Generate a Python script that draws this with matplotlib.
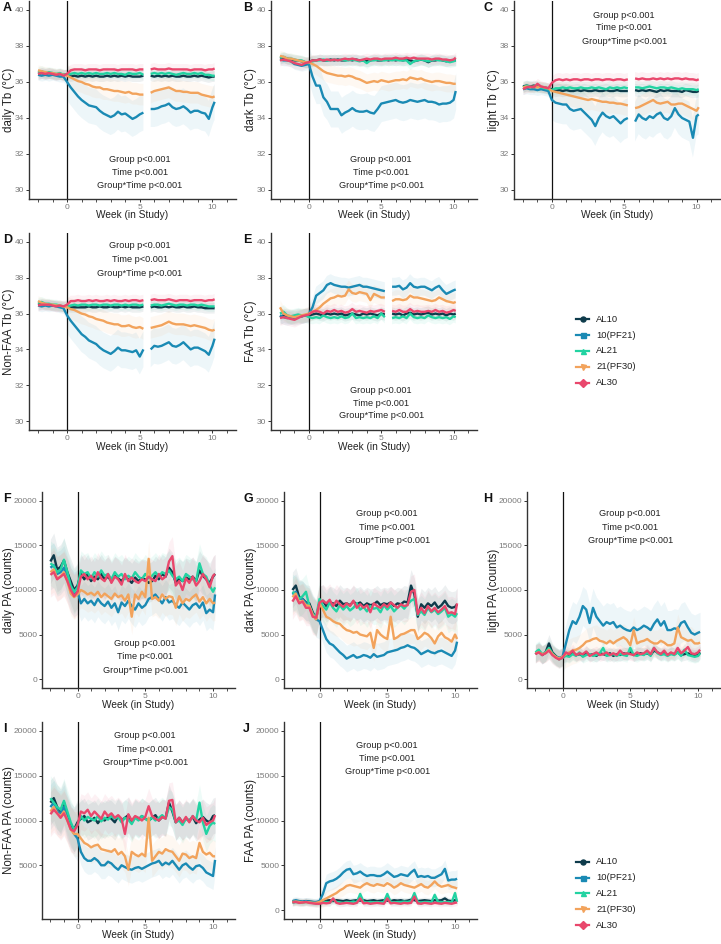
import numpy as np
import matplotlib
matplotlib.use("Agg")
import matplotlib.pyplot as plt
from matplotlib.lines import Line2D

plt.rcParams['font.family'] = ['Liberation Sans', 'DejaVu Sans']
nan = np.nan

# ---------------- data ----------------
WEEKS = [-2.0, -1.75, -1.5, -1.25, -1.0, -0.75, -0.5, -0.25,
         0.0, 0.25, 0.5, 0.75, 1.0, 1.25, 1.5, 1.75, 2.0, 2.25, 2.5, 2.75,
         3.0, 3.25, 3.5, 3.75, 4.0, 4.25, 4.5, 4.75, 5.0, 5.25, 5.5, 5.75,
         6.0, 6.25, 6.5, 6.75, 7.0, 7.25, 7.5, 7.75, 8.0, 8.25, 8.5, 8.75,
         9.0, 9.25, 9.5, 9.75, 10.0, 10.15]

GROUPS = ['AL10', '10(PF21)', 'AL21', '21(PF30)', 'AL30']
COLORS = ['#0E3B4B', '#1A8AB4', '#22D3A2', '#F2A35C', '#E9476C']
MARKERS = ['o', 's', '^', 'v', 'D']

# A  daily Tb
A_AL10 = [36.45,36.5,36.45,36.5,36.45,36.4,36.45,36.4,
          36.4,36.3,36.35,36.3, 36.35,36.3,36.35,36.3, 36.35,36.3,36.3,36.35, 36.3,36.35,36.3,36.35,
          36.3,36.35,36.3,36.3, 36.3,36.35,nan,36.35, 36.3,36.35,36.3,36.35, 36.3,36.35,36.3,36.3,
          36.35,36.3,36.3,36.35, 36.3,36.35,36.3,36.25, 36.3,36.3]
A_PF21 = [36.4,36.35,36.4,36.35,36.4,36.35,36.3,36.3,
          36.0,35.7,35.45,35.2, 35.0,34.85,34.7,34.65, 34.6,34.4,34.25,34.15, 34.05,34.15,34.35,34.2,
          34.25,34.1,33.95,34.05, 34.2,34.3,nan,34.5, 34.5,34.55,34.65,34.7, 34.8,34.6,34.5,34.55,
          34.65,34.5,34.3,34.4, 34.4,34.3,34.25,33.95, 34.6,34.9]
A_AL21 = [36.55,36.6,36.5,36.55,36.5,36.45,36.5,36.4,
          36.4,36.45,36.5,36.45, 36.5,36.45,36.5,36.45, 36.5,36.45,36.45,36.5, 36.45,36.5,36.45,36.45,
          36.4,36.5,36.45,36.45, 36.5,36.4,nan,36.45, 36.5,36.45,36.5,36.45, 36.5,36.45,36.4,36.45,
          36.5,36.45,36.45,36.5, 36.45,36.5,36.4,36.4, 36.35,36.35]
A_PF30 = [36.65,36.6,36.55,36.5,36.5,36.45,36.45,36.4,
          36.35,36.25,36.15,36.05, 36.0,35.9,35.85,35.75, 35.7,35.7,35.6,35.6, 35.55,35.5,35.5,35.45,
          35.4,35.45,35.35,35.35, 35.3,35.3,nan,35.4, 35.5,35.55,35.6,35.65, 35.7,35.6,35.5,35.5,
          35.45,35.45,35.4,35.4, 35.4,35.3,35.25,35.2, 35.15,35.2]
A_AL30 = [36.45,36.5,36.45,36.5,36.45,36.4,36.45,36.35,
          36.45,36.65,36.7,36.7, 36.7,36.65,36.7,36.7, 36.7,36.65,36.7,36.7, 36.7,36.7,36.65,36.7,
          36.7,36.7,36.7,36.65, 36.7,36.7,nan,36.7, 36.75,36.7,36.7,36.7, 36.75,36.7,36.7,36.7,
          36.7,36.7,36.65,36.7, 36.7,36.7,36.65,36.7, 36.7,36.75]

# B  dark Tb
B_AL10 = [37.3,37.35,37.3,37.25,37.2,37.2,37.15,37.1,
          37.1,37.2,37.2,37.25, 37.2,37.2,37.25,37.2, 37.25,37.2,37.2,37.25, 37.2,37.25,37.2,37.2,
          37.15,37.2,37.25,37.2, 37.2,37.25,37.2,37.25, 37.2,37.25,37.2,37.25, 37.2,37.15,37.2,37.25,
          37.2,37.1,37.2,37.2, 37.25,37.2,37.15,37.2, 37.2,37.2]
B_PF21 = [37.25,37.2,37.2,37.15,37.0,36.95,36.9,36.95,
          37.0,36.3,35.8,35.8, 35.15,34.9,34.5,34.5, 34.5,34.15,34.3,34.4, 34.55,34.4,34.35,34.35,
          34.4,34.3,34.25,34.5, 34.8,34.85,34.9,34.95, 35.0,34.9,34.85,34.9, 35.0,34.95,34.9,34.95,
          35.0,34.9,34.9,34.85, 34.75,34.8,34.8,34.85, 35.0,35.5]
B_AL21 = [37.35,37.4,37.3,37.3,37.25,37.2,37.2,37.1,
          37.05,37.15,37.2,37.2, 37.25,37.2,37.2,37.25, 37.2,37.25,37.2,37.2, 37.25,37.2,37.15,37.2,
          37.05,37.2,37.2,37.25, 37.2,37.2,37.25,37.2, 37.25,37.2,37.2,37.2, 37.0,37.15,37.2,37.25,
          37.2,37.15,37.2,37.25, 37.2,37.2,37.15,37.1, 37.15,37.2]
B_PF30 = [37.45,37.4,37.3,37.3,37.25,37.2,37.15,37.1,
          37.1,37.0,36.9,36.75, 36.6,36.5,36.45,36.4, 36.35,36.35,36.3,36.35, 36.3,36.2,36.15,36.05,
          35.95,36.0,36.05,36.0, 36.1,36.05,36.0,36.05, 36.1,36.1,36.15,36.1, 36.25,36.2,36.15,36.2,
          36.1,36.05,36.0,36.05, 36.05,36.0,35.95,35.95, 35.9,35.9]
B_AL30 = [37.2,37.25,37.2,37.15,37.05,37.0,36.95,37.05,
          37.1,37.2,37.2,37.25, 37.2,37.25,37.2,37.25, 37.2,37.25,37.3,37.25, 37.3,37.25,37.2,37.25,
          37.3,37.25,37.3,37.3, 37.25,37.3,37.3,37.3, 37.35,37.3,37.3,37.35, 37.3,37.35,37.3,37.3,
          37.3,37.3,37.25,37.3, 37.3,37.25,37.25,37.2, 37.25,37.35]

# C  light Tb
C_AL10 = [35.75,35.8,35.75,35.8,35.75,35.7,35.7,35.65,
          35.6,35.5,35.55,35.5, 35.55,35.5,35.5,35.55, 35.5,35.55,35.5,35.5, 35.55,35.5,35.5,35.55,
          35.5,35.5,35.55,35.5, 35.5,35.5,nan,35.55, 35.5,35.55,35.5,35.55, 35.5,35.45,35.55,35.5,
          35.55,35.5,35.5,35.5, 35.45,35.55,35.5,35.45, 35.45,35.5]
C_PF21 = [35.6,35.65,35.6,35.6,35.55,35.6,35.55,35.5,
          35.0,34.85,34.8,34.75, 34.75,34.5,34.4,34.45, 34.5,34.3,34.1,33.9, 33.55,34.0,34.3,34.1,
          34.0,34.1,33.9,33.7, 33.9,34.0,nan,33.8, 34.2,34.0,33.9,34.1, 34.0,34.2,34.3,34.0,
          33.9,34.1,34.55,34.2, 34.0,33.9,33.8,32.9, 34.1,34.2]
C_AL21 = [35.7,35.8,35.75,35.7,35.75,35.7,35.65,35.6,
          35.55,35.65,35.65,35.7, 35.65,35.7,35.65,35.65, 35.7,35.65,35.65,35.7, 35.65,35.7,35.65,35.6,
          35.7,35.65,35.7,35.65, 35.7,35.65,nan,35.7, 35.7,35.65,35.7,35.75, 35.7,35.65,35.7,35.7,
          35.65,35.7,35.65,35.6, 35.65,35.6,35.6,35.6, 35.55,35.6]
C_PF30 = [35.7,35.75,35.7,35.75,35.7,35.75,35.7,35.65,
          35.5,35.45,35.4,35.35, 35.3,35.25,35.2,35.15, 35.1,35.05,35.0,35.05, 35.0,34.95,34.9,34.9,
          34.85,34.85,34.8,34.8, 34.75,34.7,nan,34.55, 34.6,34.7,34.8,34.9, 35.0,34.85,34.8,34.85,
          34.9,34.75,34.75,34.8, 34.8,34.7,34.6,34.5, 34.4,34.6]
C_AL30 = [35.6,35.7,35.75,35.7,35.9,35.75,35.7,35.65,
          35.95,36.1,36.15,36.1, 36.15,36.1,36.15,36.15, 36.1,36.15,36.15,36.1, 36.15,36.15,36.1,36.15,
          36.15,36.1,36.15,36.15, 36.1,36.15,nan,36.2, 36.15,36.2,36.15,36.15, 36.2,36.15,36.2,36.15,
          36.2,36.15,36.2,36.2, 36.15,36.2,36.15,36.15, 36.1,36.15]

# D  Non-FAA Tb
D_AL10 = [36.5,36.55,36.5,36.5,36.45,36.45,36.4,36.4,
          36.4,36.35,36.35,36.35, 36.35,36.35,36.4,36.35, 36.35,36.4,36.35,36.35, 36.4,36.35,36.35,36.4,
          36.35,36.4,36.35,36.35, 36.35,36.4,nan,36.35, 36.4,36.35,36.35,36.4, 36.35,36.4,36.35,36.35,
          36.4,36.35,36.35,36.4, 36.35,36.35,36.3,36.3, 36.3,36.3]
D_PF21 = [36.45,36.4,36.45,36.4,36.45,36.4,36.35,36.3,
          35.9,35.6,35.35,35.1, 34.85,34.7,34.5,34.4, 34.3,34.1,33.95,33.85, 33.75,33.9,34.1,33.95,
          33.95,33.9,33.85,33.95, 33.6,34.0,nan,34.0, 34.2,34.15,34.2,34.3, 34.4,34.2,34.15,34.25,
          34.4,34.2,34.0,34.1, 34.1,34.0,33.9,33.7, 34.2,34.6]
D_AL21 = [36.6,36.65,36.55,36.55,36.5,36.5,36.45,36.4,
          36.4,36.45,36.5,36.45, 36.5,36.5,36.45,36.5, 36.5,36.45,36.5,36.5, 36.45,36.5,36.5,36.45,
          36.5,36.45,36.5,36.5, 36.45,36.5,nan,36.45, 36.5,36.5,36.45,36.5, 36.55,36.5,36.45,36.5,
          36.5,36.45,36.5,36.5, 36.45,36.5,36.45,36.4, 36.4,36.4]
D_PF30 = [36.7,36.6,36.55,36.5,36.5,36.45,36.45,36.4,
          36.35,36.25,36.2,36.1, 36.0,35.95,35.85,35.8, 35.7,35.65,35.6,35.5, 35.45,35.4,35.4,35.3,
          35.3,35.35,35.25,35.2, 35.25,35.15,nan,35.2, 35.25,35.3,35.35,35.45, 35.55,35.45,35.4,35.4,
          35.4,35.35,35.3,35.35, 35.3,35.25,35.2,35.1, 35.05,35.1]
D_AL30 = [36.45,36.5,36.5,36.5,36.45,36.4,36.45,36.4,
          36.5,36.7,36.7,36.75, 36.7,36.7,36.75,36.7, 36.75,36.7,36.7,36.75, 36.7,36.75,36.7,36.7,
          36.75,36.7,36.75,36.75, 36.7,36.75,nan,36.75, 36.8,36.75,36.75,36.75, 36.8,36.75,36.7,36.75,
          36.75,36.75,36.7,36.75, 36.75,36.75,36.7,36.75, 36.75,36.8]

# E  FAA Tb
E_AL10 = [35.8,35.9,35.85,35.8,35.85,35.9,35.85,35.9,
          35.9,35.95,36.0,35.95, 35.9,36.0,35.95,36.0, 35.95,36.0,35.9,35.95, 36.0,35.95,35.9,36.0,
          35.95,36.0,35.95,35.9, 36.0,35.95,nan,36.0, 35.95,36.0,35.9,36.0, 36.05,35.95,36.0,35.95,
          36.0,36.05,35.95,36.0, 35.95,36.0,35.9,36.0, 35.95,36.0]
E_PF21 = [35.9,35.8,35.75,35.8,35.75,35.8,35.85,35.9,
          36.0,36.35,37.0,37.15, 37.3,37.6,37.7,37.6, 37.55,37.5,37.5,37.45, 37.5,37.55,37.6,37.5,
          37.5,37.45,37.4,37.35, 37.3,37.25,nan,37.5, 37.5,37.55,37.35,37.45, 37.7,37.5,37.45,37.5,
          37.5,37.4,37.3,37.45, 37.55,37.3,37.1,37.2, 37.3,37.35]
E_AL21 = [36.0,36.1,35.9,35.85,35.9,35.95,35.9,35.9,
          35.8,35.75,35.8,35.75, 35.9,35.8,35.75,35.8, 35.75,35.85,35.75,35.8, 36.0,35.75,35.8,35.75,
          35.8,35.75,35.85,35.75, 36.0,35.8,nan,35.75, 35.8,35.75,35.85,35.75, 36.0,35.8,35.75,35.8,
          35.75,35.9,35.8,35.75, 35.8,35.75,35.8,35.7, 35.85,35.8]
E_PF30 = [36.35,36.0,35.9,35.85,35.8,35.85,35.9,35.95,
          36.0,36.1,36.2,36.35, 36.55,36.7,36.85,36.9, 37.0,36.95,37.0,37.35, 37.15,37.1,37.2,37.15,
          37.1,36.75,37.1,37.0, 36.9,36.9,nan,36.7, 36.8,36.8,36.75,36.8, 37.0,36.9,36.9,36.85,
          36.8,36.75,36.7,36.75, 36.9,36.8,36.7,36.65, 36.6,36.65]
E_AL30 = [35.75,35.8,35.75,35.7,35.65,35.75,35.85,35.9,
          35.95,36.1,36.15,36.1, 36.0,36.15,36.1,36.2, 36.1,36.15,36.05,36.1, 36.25,36.1,36.15,36.1,
          36.05,36.15,36.1,36.15, 36.2,36.1,nan,36.15, 36.1,36.2,36.1,36.1, 36.25,36.1,36.15,36.1,
          36.1,36.15,36.1,36.2, 36.1,36.15,36.05,36.1, 36.2,36.15]

# F  daily PA
F_AL10 = [13200,13900,12300,12600,13300,12000,11000,10000,
          10500,11800,11200,11800, 11000,11500,11200,11800, 11200,11500,11000,11600, 11300,11000,11500,11200,
          10800,11400,11000,11300, 11200,10800,11000,11600, 11200,11800,11500,12500, 12000,10800,11300,11000,
          11400,11200,11500,11000, 12200,11600,11200,10800, 11500,11800]
F_PF21 = [12500,12800,11800,12000,12500,11300,10000,9500,
          9800,8500,9000,8500, 8800,8300,9000,8500, 8200,8700,8000,8500, 7500,8600,8200,8800,
          8200,7800,8500,8000, 8300,9000,9200,9500, 9000,8500,9200,8600, 8800,8300,8000,8600,
          8200,7800,8300,8500, 8000,8600,7400,7800, 7500,9500]
F_AL21 = [13000,12700,12000,12300,13400,12000,10500,9800,
          10300,12200,11800,12000, 11300,12000,11500,12200, 11600,11800,11200,12000, 11500,11800,11200,11600,
          11300,12000,11500,11200, 11800,11300,11600,12000, 11500,12000,11800,12200, 11600,11200,11500,11000,
          11800,11500,11200,11000, 13000,11800,11500,10500, 9800,10300]
F_PF30 = [12000,12300,11300,11500,12000,11000,9600,9200,
          9500,10000,9800,9500, 9700,9400,9800,9200, 9600,9300,9000,9600, 9200,9400,8800,9500,
          7000,9500,9000,9800, 9200,13500,9000,9200, 8800,9500,9000,9300, 9200,8000,9300,8500,
          9000,8800,9200,9500, 8700,9200,8500,9000, 8500,8600]
F_AL30 = [11700,12000,11200,11500,11800,11000,10000,9300,
          9800,11500,11800,11200, 11600,11000,12000,11300, 11000,11800,10800,11500, 11200,10600,11800,11000,
          11400,11000,10800,11200, 11000,11500,11200,11000, 11800,11200,11500,13200, 13800,10500,11000,10000,
          11300,10800,11500,10500, 11000,11800,11200,10300, 11600,11800]

# G  dark PA
G_AL10 = [10000,10500,9200,9000,8600,8500,7500,6800,
          8600,8800,8200,8600, 8500,8200,8800,8400, 8500,8300,8700,8400, 8600,8200,8500,8300,
          8400,8700,8300,8500, 8400,8600,8200,8500, 8400,8700,8600,10500, 9500,7000,8400,8000,
          8500,8200,8600,8000, 8300,8800,8200,8000, 8100,8400]
G_PF21 = [9500,9800,9000,9000,8500,8200,7300,6700,
          6500,5500,4500,4000, 3800,3400,3000,2700, 2300,2500,2700,2400, 2500,2700,2600,2400,
          2800,2500,2600,2700, 3000,3100,3200,3300, 3500,3600,3800,3600, 3500,3200,2800,3000,
          3200,3000,2900,3100, 3200,3000,2800,2600, 3200,4200]
G_AL21 = [9800,9500,9000,9300,9800,8200,7300,7000,
          9000,8200,7800,8600, 8000,7600,8300,7800, 8200,7700,8000,8500, 7800,8100,7600,8200,
          7900,8000,7500,8300, 7800,8200,7600,8000, 8300,7900,8400,8800, 9000,7200,7600,7200,
          8000,7500,7800,7300, 7600,8000,7000,7300, 7000,7400]
G_PF30 = [9200,9600,8600,8800,8300,8200,7200,6700,
          8500,7800,7000,6800, 6500,6300,6200,5800, 5500,5400,5200,5300, 5000,4900,4800,5200,
          3500,5500,5000,4700, 4500,7000,4500,4700, 5000,5100,5300,5500, 5500,4500,4800,5200,
          5000,4600,4000,4800, 5200,4700,4500,4200, 5000,4500]
G_AL30 = [8700,9300,8500,8700,8000,8000,7000,6900,
          8600,8800,8500,8900, 8200,8800,8400,8100, 8500,8200,8800,8000, 8400,8000,8300,7500,
          8500,8200,8000,8400, 8100,8600,8300,8000, 8400,8200,8300,9800, 10000,7300,8000,7400,
          8200,7600,8000,7500, 7800,8200,7400,7500, 7300,8500]

# H  light PA
H_AL10 = [2800,3200,2700,3000,4000,3000,2600,2300,
          2500,2700,2600,2900, 2700,2800,2600,3000, 2700,2800,2600,2900, 2800,2700,2900,2600,
          2800,2700,2900,2800, 3000,2700,2800,2900, 2800,2900,2700,3200, 3000,2800,2900,2700,
          2900,2800,3000,2700, 2800,2900,2700,2600, 2700,3000]
H_PF21 = [2900,3100,2700,3000,3300,2800,2500,2400,
          2500,4000,5500,6500, 6200,7000,8200,7800, 6300,8000,7000,6500, 6000,6400,6200,6400,
          5800,6000,5700,5500, 5400,5800,5500,5700, 6000,5800,5500,6200, 6700,6000,6500,5500,
          5500,5700,5600,6300, 6500,5800,5200,5000, 5200,5300]
H_AL21 = [3000,3300,2800,3000,3500,2900,2500,2200,
          2400,2600,2500,2800, 2600,3000,2500,2700, 2800,2600,2700,2900, 3500,2600,2700,2800,
          2600,2800,2700,2600, 3500,2700,2600,2800, 2700,3000,2600,3500, 2900,2700,2800,2600,
          2800,2700,3000,2600, 3300,2700,2600,2500, 2600,2900]
H_PF30 = [2900,3000,2800,2900,3300,2800,2500,2300,
          2500,2800,3000,3200, 3300,3500,3800,4200, 4300,4500,4600,4300, 4200,4000,4300,4000,
          4300,4500,4700,4400, 3800,5500,4000,4200, 4300,4500,4200,4000, 4000,4300,4100,3800,
          3800,4000,5800,4700, 4500,4300,4400,4000, 4000,4100]
H_AL30 = [2800,3000,2700,2900,3200,2700,2400,2200,
          2400,3000,2800,3200, 2700,2900,2800,3100, 2600,2800,3000,2700, 2800,3000,2700,2900,
          2700,3200,2800,2900, 2800,2700,3000,2800, 2900,3200,2800,3500, 3000,2800,3200,2700,
          3000,2800,3500,2900, 3200,3600,2900,2800, 3000,3300]

# I  Non-FAA PA
I_AL10 = [12000,12500,11500,11000,12000,10500,9500,9000,
          9800,10200,10500,9800, 10000,10300,9700,10200, 10000,10400,10200,9800, 10500,10000,10300,10600,
          9800,10400,10100,10500, 10200,10000,10300,10600, 10000,10400,10300,12000, 11000,9800,10300,9800,
          10200,10000,10400,9700, 10100,10400,10000,9800, 10500,10600]
I_PF21 = [11500,12000,11000,10800,11500,10200,9200,8500,
          8000,6500,5800,5500, 5500,5800,5500,5000, 5000,5400,5200,4800, 4500,5000,4800,4600,
          4500,4700,4800,4600, 4800,5000,5200,5300, 5500,5000,5300,5100, 5500,5000,4500,5000,
          5200,4800,4500,4900, 5000,4700,4200,4000, 3800,5600]
I_AL21 = [12500,12000,11500,11200,12200,11000,9800,9000,
          9500,10500,10000,10400, 10200,10000,10500,9900, 10300,10100,10500,10200, 10400,9800,10300,10100,
          9600,10300,10000,10500, 10200,9900,10400,10000, 10300,10600,10200,11500, 11200,9800,10000,9500,
          10200,9900,10500,10000, 12000,9800,8500,9400, 9800,9600]
I_PF30 = [11000,11500,10800,10500,11000,10000,9000,8500,
          8500,8000,7500,7300, 7000,7200,7300,6800, 6700,6600,6500,6800, 6200,6500,6000,4500,
          6500,6200,6000,6300, 6000,10300,5500,6000, 6500,6300,6800,6600, 6500,6000,5500,6300,
          6200,5800,6000,5800, 7500,6500,6200,6400, 6000,6000]
I_AL30 = [10700,11200,10800,10300,10800,10000,9000,8800,
          9500,11000,10800,11200, 10500,11000,10600,10200, 11000,10500,10800,10300, 10600,10200,8500,10700,
          10000,10500,10300,10000, 10400,11600,10500,10200, 10000,10400,10200,12200, 12300,9800,10300,9800,
          10400,9800,10500,10000, 9800,10300,9500,9800, 10000,10600]

# J  FAA PA
J_AL10 = [900,1000,950,900,1000,950,900,850,
          900,1000,1050,1100, 1000,1100,1050,1000, 1100,1000,1050,1100, 1050,1100,1000,1050,
          1100,1000,1050,1100, 1050,1000,1100,1050, 1100,1000,1050,1150, 1100,1000,1050,1100,
          1050,1000,1100,1050, 1100,1300,1050,1000, 1100,1050]
J_PF21 = [1000,1100,1000,950,1000,950,900,900,
          1000,1800,3000,3200, 3300,3500,3800,4200, 4500,4600,4000,4100, 4300,4000,3800,3900,
          3900,3800,3800,4000, 4300,4000,3700,3800, 4000,3900,3800,4200, 4500,3700,3800,3700,
          3800,3600,3600,3800, 4000,4600,3300,3400, 3400,3500]
J_AL21 = [800,900,850,800,900,850,800,750,
          800,850,900,800, 1200,900,850,800, 900,850,950,850, 1800,900,850,900,
          850,900,850,900, 1800,900,850,900, 900,950,900,1000, 1900,900,850,900,
          900,850,1700,900, 900,850,900,850, 1900,900]
J_PF30 = [900,950,900,850,900,850,800,800,
          900,1100,1300,1500, 1700,1900,2200,2400, 2700,2800,2700,2600, 2500,2800,3000,2800,
          2700,2900,2800,2700, 3000,2800,2500,2700, 3000,2800,2700,2600, 2500,2700,2900,2600,
          2500,2800,3200,2800, 2600,2700,2800,2600, 2500,2400]
J_AL30 = [850,900,800,850,900,800,750,700,
          700,800,750,800, 1300,800,700,750, 800,750,700,800, 1300,750,800,700,
          750,800,750,700, 1300,750,800,750, 700,800,750,800, 1500,750,700,800,
          750,700,800,750, 700,800,750,700, 800,850]

# half-width of the individual-animal point cloud (pre / post), order as GROUPS
A_SD_PRE, A_SD_POST = [0.3, 0.3, 0.3, 0.3, 0.3], [0.3, 1.0, 0.3, 0.6, 0.3]
B_SD_PRE, B_SD_POST = [0.3, 0.3, 0.3, 0.3, 0.3], [0.3, 1.0, 0.3, 0.5, 0.3]
C_SD_PRE, C_SD_POST = [0.3, 0.3, 0.3, 0.3, 0.3], [0.35, 1.1, 0.35, 0.6, 0.35]
D_SD_PRE, D_SD_POST = [0.3, 0.3, 0.3, 0.3, 0.3], [0.3, 1.0, 0.3, 0.6, 0.3]
E_SD_PRE, E_SD_POST = [0.4, 0.4, 0.4, 0.4, 0.4], [0.35, 0.5, 0.35, 0.5, 0.35]
F_SD_PRE, F_SD_POST = [2500, 2500, 2500, 2500, 2500], [2200, 2000, 2200, 2000, 2200]
G_SD_PRE, G_SD_POST = [2000, 2000, 2000, 2000, 2000], [1800, 1500, 1800, 1500, 1800]
H_SD_PRE, H_SD_POST = [1000, 1000, 1000, 1000, 1000], [700, 2200, 700, 1500, 700]
I_SD_PRE, I_SD_POST = [2500, 2500, 2500, 2500, 2500], [2000, 1500, 2000, 1800, 2000]
J_SD_PRE, J_SD_POST = [400, 400, 400, 400, 400], [350, 1000, 400, 800, 350]

STATS = ['Group p<0.001', 'Time p<0.001', 'Group*Time p<0.001']
TB_TICKS = [30, 32, 34, 36, 38, 40]
PA_TICKS = [0, 5000, 10000, 15000, 20000]
X_TICKS = [0, 5, 10]

# ---------------- layout ----------------
FW, FH = 721, 944
fig = plt.figure(figsize=(FW / 100, FH / 100), dpi=100)

TXT = '#222222'
TICKC = '#7a7a7a'
AXC = '#333333'

panels = [
    # letter, (l, t, r, b) px, ylabel, series, sd_pre, sd_post, kind, stat y, yticks
    ('A', (29, 1, 236, 199), 'daily Tb (°C)', [A_AL10, A_PF21, A_AL21, A_PF30, A_AL30], A_SD_PRE, A_SD_POST, 'tb', (31.7, 30.95, 30.25), TB_TICKS),
    ('B', (271, 1, 477, 199), 'dark Tb (°C)', [B_AL10, B_PF21, B_AL21, B_PF30, B_AL30], B_SD_PRE, B_SD_POST, 'tb', (31.7, 30.95, 30.25), TB_TICKS),
    ('C', (514, 1, 720, 199), 'light Tb (°C)', [C_AL10, C_PF21, C_AL21, C_PF30, C_AL30], C_SD_PRE, C_SD_POST, 'tb', (39.72, 39.0, 38.27), TB_TICKS),
    ('D', (29, 233, 236, 430), 'Non-FAA Tb (°C)', [D_AL10, D_PF21, D_AL21, D_PF30, D_AL30], D_SD_PRE, D_SD_POST, 'tb', (39.78, 39.0, 38.26), TB_TICKS),
    ('E', (271, 233, 477, 430), 'FAA Tb (°C)', [E_AL10, E_PF21, E_AL21, E_PF30, E_AL30], E_SD_PRE, E_SD_POST, 'tb', (31.72, 31.0, 30.33), TB_TICKS),
    ('F', (42, 492, 235, 688), 'daily PA (counts)', [F_AL10, F_PF21, F_AL21, F_PF30, F_AL30], F_SD_PRE, F_SD_POST, 'pa', (3990, 2490, 1000), PA_TICKS),
    ('G', (284, 492, 477, 688), 'dark PA (counts)', [G_AL10, G_PF21, G_AL21, G_PF30, G_AL30], G_SD_PRE, G_SD_POST, 'pa', (18550, 16980, 15560), PA_TICKS),
    ('H', (527, 492, 720, 688), 'light PA (counts)', [H_AL10, H_PF21, H_AL21, H_PF30, H_AL30], H_SD_PRE, H_SD_POST, 'pa', (18550, 16980, 15560), PA_TICKS),
    ('I', (42, 722, 235, 919), 'Non-FAA PA (counts)', [I_AL10, I_PF21, I_AL21, I_PF30, I_AL30], I_SD_PRE, I_SD_POST, 'pa', (19440, 17950, 16530), PA_TICKS[1:]),
    ('J', (284, 722, 477, 919), 'FAA PA (counts)', [J_AL10, J_PF21, J_AL21, J_PF30, J_AL30], J_SD_PRE, J_SD_POST, 'pa', (18400, 16900, 15525), PA_TICKS),
]

x = np.array(WEEKS, dtype=float)
pre = x <= 0
post = x >= 0

for letter, (l, t, r, b), ylabel, series, sdp, sdq, kind, sty, yticks in panels:
    ax = fig.add_axes([l / FW, 1 - b / FH, (r - l) / FW, (b - t) / FH])
    ax.set_xlim(-2.62, 11.62)
    if kind == 'tb':
        ax.set_ylim(29.5, 40.5)
    else:
        ax.set_ylim(-1000, 21000)
    for i in range(5):
        y = np.array(series[i], dtype=float)
        assert len(y) == len(x), (letter, i, len(y))
        ax.fill_between(x[pre], y[pre] - sdp[i], y[pre] + sdp[i], color=COLORS[i],
                        alpha=0.075, linewidth=0, zorder=1)
        ax.fill_between(x[post], y[post] - sdq[i], y[post] + sdq[i], color=COLORS[i],
                        alpha=0.075, linewidth=0, zorder=1)
    ax.axvline(0, color='#111111', lw=0.9, zorder=2)
    for i in range(5):
        ax.plot(x, series[i], color=COLORS[i], lw=1.7, zorder=3 + i,
                solid_capstyle='butt', solid_joinstyle='round')
    for s, yy in zip(STATS, sty):
        ax.text(5.0, yy, s, ha='center', va='center', fontsize=6.6, color=TXT, zorder=10)
    for sp in ('top', 'right'):
        ax.spines[sp].set_visible(False)
    for sp in ('left', 'bottom'):
        ax.spines[sp].set_color(AXC)
        ax.spines[sp].set_linewidth(1.0)
    ax.set_xticks(X_TICKS)
    ax.set_xticks([v for v in range(-2, 12) if v not in X_TICKS], minor=True)
    ax.set_yticks(yticks)
    ax.tick_params(axis='both', which='major', direction='out', length=2.2, width=0.7,
                   color=AXC, labelsize=6.0, labelcolor=TICKC, pad=1.2)
    ax.tick_params(axis='x', which='minor', direction='out', length=2.0, width=0.6, color=AXC)
    ax.set_facecolor('none')
    # axis titles
    cx = (l + r) / 2
    fig.text(cx / FW, 1 - (b + 16.5) / FH, 'Week (in Study)', ha='center', va='center',
             fontsize=7.3, color=TXT)
    ylx = l - (20 if kind == 'tb' else 33)
    fig.text(ylx / FW, 1 - ((t + b) / 2) / FH, ylabel, ha='center', va='center',
             rotation=90, fontsize=8.3, color=TXT)
    lx = 3 if l < 100 else (243 if l < 400 else 483)
    fig.text(lx / FW, 1 - (t + 1) / FH, letter, ha='left', va='top', fontsize=9,
             fontweight='bold', color='#111111')

# legends
def draw_legend(ys):
    for i, g in enumerate(GROUPS):
        yf = 1 - ys[i] / FH
        fig.add_artist(Line2D([576 / FW, 589 / FW], [yf, yf], transform=fig.transFigure,
                              color=COLORS[i], lw=1.6))
        fig.add_artist(Line2D([582.5 / FW], [yf], transform=fig.transFigure, color=COLORS[i],
                              marker=MARKERS[i], markersize=3.6, lw=0))
        fig.text(596 / FW, yf, g, ha='left', va='center', fontsize=6.8, color=TXT)

draw_legend([319.3, 335.0, 350.5, 366.7, 382.7])
draw_legend([862.0, 877.5, 893.0, 909.0, 925.0])

fig.savefig('out.png', dpi=100)
